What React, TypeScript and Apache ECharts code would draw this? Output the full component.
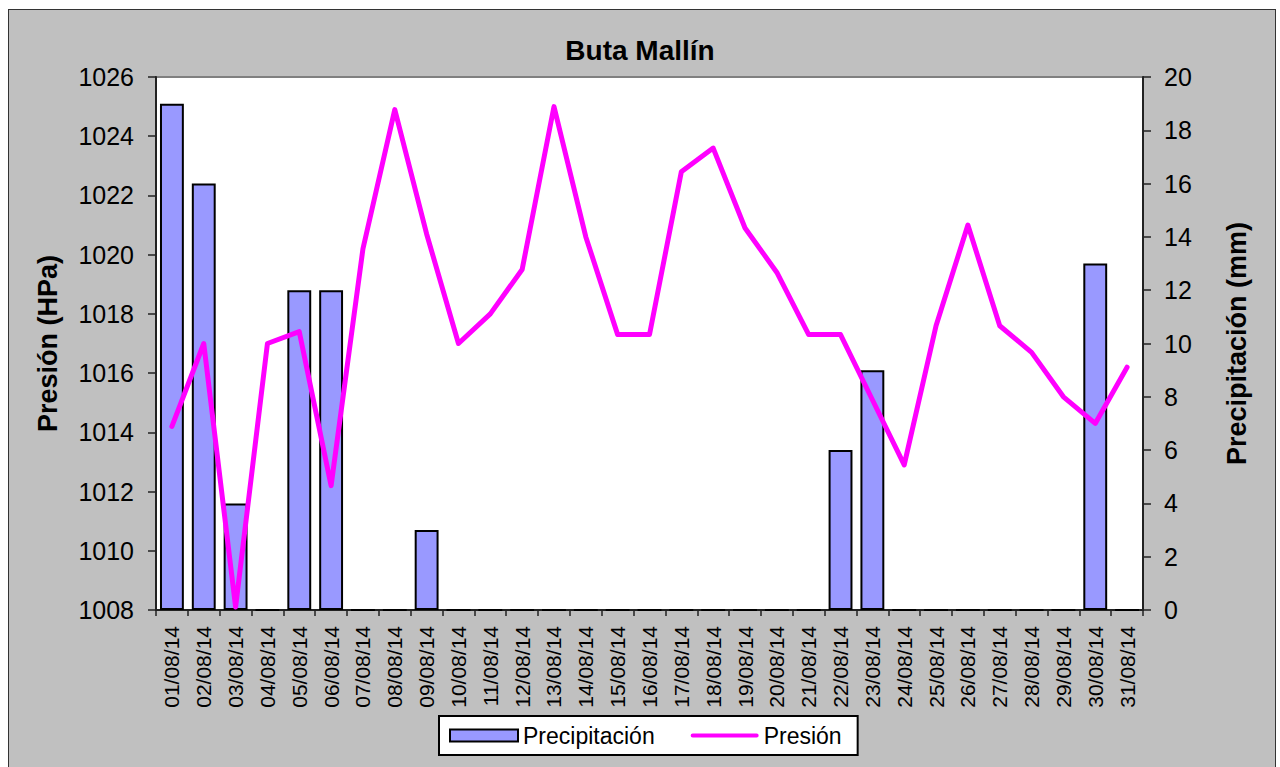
import React, { useEffect, useRef } from "react";
import * as echarts from "echarts";

const dates = [
  "01/08/14", "02/08/14", "03/08/14", "04/08/14", "05/08/14", "06/08/14", "07/08/14", "08/08/14",
  "09/08/14", "10/08/14", "11/08/14", "12/08/14", "13/08/14", "14/08/14", "15/08/14", "16/08/14",
  "17/08/14", "18/08/14", "19/08/14", "20/08/14", "21/08/14", "22/08/14", "23/08/14", "24/08/14",
  "25/08/14", "26/08/14", "27/08/14", "28/08/14", "29/08/14", "30/08/14", "31/08/14",
];

const precipitacion = [19, 16, 4, 0, 12, 12, 0, 0, 3, 0, 0, 0, 0, 0, 0, 0, 0, 0, 0, 0, 0, 6, 9, 0, 0, 0, 0, 0, 0, 13, 0];

const presion = [
  1014.2, 1017.0, 1008.1, 1017.0, 1017.4, 1012.2, 1020.2, 1024.9, 1020.7, 1017.0, 1018.0, 1019.5,
  1025.0, 1020.6, 1017.3, 1017.3, 1022.8, 1023.6, 1020.9, 1019.4, 1017.3, 1017.3, 1015.1, 1012.9,
  1017.6, 1021.0, 1017.6, 1016.7, 1015.2, 1014.3, 1016.2,
];

const FONT = "'Liberation Sans', Arial, sans-serif";

export default function App() {
  const ref = useRef<HTMLDivElement>(null);

  useEffect(() => {
    if (!ref.current) return;
    const chart = echarts.init(ref.current, null, { renderer: "svg" });
    chart.setOption({
      animation: false,
      textStyle: { fontFamily: FONT, color: "#000" },
      title: {
        text: "Buta Mallín",
        left: "center",
        top: 31,
        textStyle: { fontFamily: FONT, fontSize: 28, fontWeight: "bold", color: "#000" },
      },
      legend: {
        left: 439,
        top: 716,
        padding: [8, 16, 8, 10],
        backgroundColor: "#fff",
        borderColor: "#000",
        borderWidth: 2,
        borderRadius: 0,
        itemWidth: 68,
        itemHeight: 12,
        itemGap: 36,
        textStyle: { fontFamily: FONT, fontSize: 23, color: "#000" },
        data: [
          { name: "Precipitación", icon: "rect" },
          { name: "Presión", icon: "path://M3,0L97,0A3,3 0 0 1 97,6L3,6A3,3 0 0 1 3,0Z" },
        ],
      },
      grid: {
        left: 156,
        right: 137,
        top: 77,
        bottom: 157,
        show: true,
        backgroundColor: "#fff",
        borderColor: "#808080",
        borderWidth: 2,
        containLabel: false,
      },
      xAxis: {
        type: "category",
        data: dates,
        boundaryGap: true,
        axisLine: { show: true, lineStyle: { color: "#222", width: 2 } },
        axisTick: { show: true, length: 6, interval: 0, lineStyle: { color: "#222", width: 1.5 } },
        axisLabel: {
          interval: 0,
          rotate: 90,
          margin: 16,
          fontSize: 21,
          fontFamily: FONT,
          color: "#000",
        },
        splitLine: { show: false },
      },
      yAxis: [
        {
          type: "value",
          min: 1008,
          max: 1026,
          interval: 2,
          position: "left",
          name: "Presión (HPa)",
          nameLocation: "middle",
          nameRotate: 90,
          nameGap: 95,
          nameTextStyle: { fontFamily: FONT, fontSize: 27, fontWeight: "bold", color: "#000" },
          axisLine: { show: true, lineStyle: { color: "#222", width: 2 } },
          axisTick: { show: true, length: 8, lineStyle: { color: "#222", width: 1.5 } },
          axisLabel: {
            margin: 22,
            fontSize: 25,
            fontFamily: FONT,
            color: "#000",
            formatter: (v: number) => String(v),
          },
          splitLine: { show: false },
        },
        {
          type: "value",
          min: 0,
          max: 20,
          interval: 2,
          position: "right",
          name: "Precipitación (mm)",
          nameLocation: "middle",
          nameRotate: 90,
          nameGap: 80,
          nameTextStyle: { fontFamily: FONT, fontSize: 27, fontWeight: "bold", color: "#000" },
          axisLine: { show: true, lineStyle: { color: "#222", width: 2 } },
          axisTick: { show: true, length: 8, lineStyle: { color: "#222", width: 1.5 } },
          axisLabel: { margin: 21, fontSize: 25, fontFamily: FONT, color: "#000" },
          splitLine: { show: false },
        },
      ],
      series: [
        {
          name: "Precipitación",
          type: "bar",
          yAxisIndex: 1,
          data: precipitacion,
          barCategoryGap: "25%",
          itemStyle: { color: "#9999FF", borderColor: "#000", borderWidth: 2 },
        },
        {
          name: "Presión",
          type: "line",
          yAxisIndex: 0,
          data: presion,
          showSymbol: false,
          symbol: "none",
          lineStyle: { color: "#FF00FF", width: 5, join: "round", cap: "round" },
          itemStyle: { color: "#FF00FF" },
        },
      ],
    });
    return () => chart.dispose();
  }, []);

  return (
    <div style={{ position: "fixed", left: 0, top: 0, width: 1280, height: 767, background: "#fff" }}>
      <div
        style={{
          position: "absolute",
          left: 8,
          top: 9,
          width: 1268,
          height: 770,
          background: "#C0C0C0",
          border: "1px solid #333",
          boxSizing: "border-box",
        }}
      />
      <div ref={ref} style={{ position: "absolute", left: 0, top: 0, width: 1280, height: 767 }} />
    </div>
  );
}
